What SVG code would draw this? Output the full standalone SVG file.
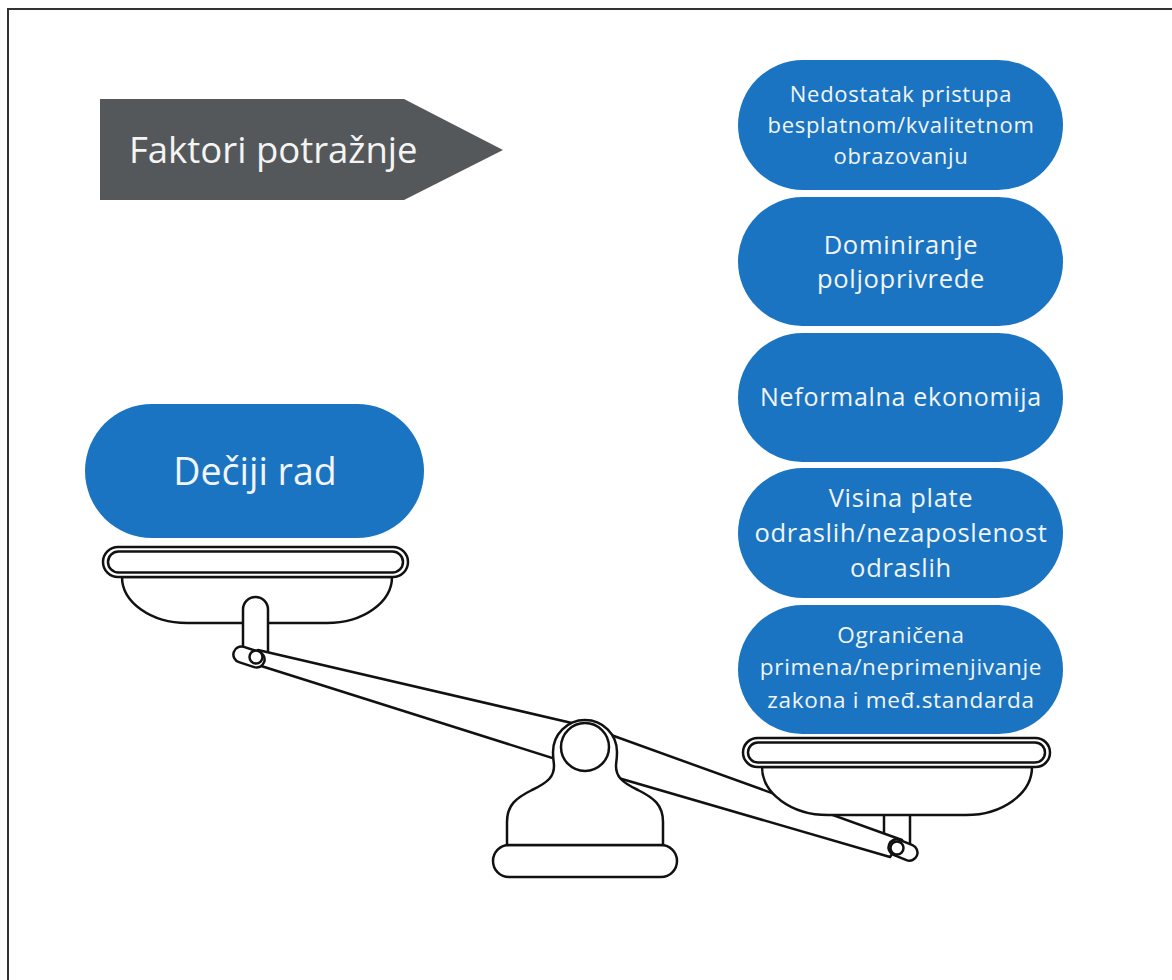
<svg xmlns="http://www.w3.org/2000/svg" width="1172" height="980" viewBox="0 0 1172 980">
<style>
.bub{fill:#1a74c1}
.bt{font-family:"Open Sans","Noto Sans","Liberation Sans",sans-serif;fill:#f2f4f7;text-anchor:middle;letter-spacing:0.7px}
.ln{fill:#fff;stroke:#111;stroke-width:2.5;stroke-linejoin:round;stroke-linecap:round}
.lo{fill:none;stroke:#111;stroke-width:2.5;stroke-linecap:round}
</style>
<rect x="0" y="0" width="1172" height="980" fill="#fff"/>
<rect x="8" y="9" width="1220" height="1020" fill="none" stroke="#333" stroke-width="2"/>

<g id="faktori">
<polygon points="100,99 404,99 503,150 404,200 100,200" fill="#54585a"/>
<text x="129" y="163" font-family="Open Sans,Noto Sans,Liberation Sans,sans-serif" font-size="36.5" fill="#f4f4f4">Faktori potražnje</text>
</g>

<g id="b1">
<rect class="bub" x="738" y="60" width="325" height="130" rx="65"/>
<text class="bt" font-size="22"><tspan x="901" y="102">Nedostatak pristupa</tspan><tspan x="901" y="133">besplatnom/kvalitetnom</tspan><tspan x="901" y="164">obrazovanju</tspan></text>
</g>
<g id="b2">
<rect class="bub" x="738" y="197" width="325" height="129" rx="64.5"/>
<text class="bt" font-size="25.5"><tspan x="901" y="254">Dominiranje</tspan><tspan x="901" y="288">poljoprivrede</tspan></text>
</g>
<g id="b3">
<rect class="bub" x="738" y="333" width="325" height="129" rx="64.5"/>
<text class="bt" font-size="25" x="901" y="406">Neformalna ekonomija</text>
</g>
<g id="b4">
<rect class="bub" x="738" y="468" width="325" height="130" rx="65"/>
<text class="bt" font-size="25.5"><tspan x="901" y="507">Visina plate</tspan><tspan x="901" y="542">odraslih/nezaposlenost</tspan><tspan x="901" y="577">odraslih</tspan></text>
</g>
<g id="b5">
<rect class="bub" x="738" y="605" width="325" height="129" rx="64.5"/>
<text class="bt" font-size="22.5"><tspan x="901" y="643">Ograničena</tspan><tspan x="901" y="675">primena/neprimenjivanje</tspan><tspan x="901" y="708">zakona i međ.standarda</tspan></text>
</g>
<g id="decji">
<rect class="bub" x="85" y="404" width="339" height="134" rx="67"/>
<text class="bt" font-size="37.5" x="255" y="485" style="letter-spacing:0">Dečiji rad</text>
</g>

<g id="scale">
<!-- right post (behind beam) -->
<rect class="ln" x="884" y="805" width="26" height="45"/>
<!-- left bowl and rim -->
<path class="ln" d="M122,577 A65,46 0 0 0 187,623 H327 A65,46 0 0 0 392,577 Z"/>
<rect class="ln" x="103" y="547" width="305" height="30" rx="15"/>
<rect class="lo" x="108" y="551.5" width="295" height="21" rx="10.5"/>
<!-- left post -->
<path class="ln" d="M243,660 V609.5 A12.5,12.5 0 0 1 268,609.5 V660 Z"/>
<!-- beam -->
<path class="ln" d="M258,650 L589,727 L902,840 L890,857 L584,768 L258,665 Z"/>
<!-- right bowl and rim -->
<path class="ln" d="M762,767 A66,48 0 0 0 828,815 H966 A66,48 0 0 0 1032,767 Z"/>
<rect class="ln" x="743" y="738" width="307" height="29" rx="14.5"/>
<rect class="lo" x="748" y="742.5" width="297" height="20" rx="10"/>
<!-- right pin -->
<rect class="ln" x="-15" y="-8" width="30" height="16" rx="8" transform="translate(903,850) rotate(22)"/>
<circle class="ln" cx="897" cy="848" r="6.5"/>
<!-- left pin -->
<rect class="ln" x="-16" y="-8" width="32" height="16" rx="8" transform="translate(249,657) rotate(18)"/>
<circle class="ln" cx="256" cy="657" r="6.5"/>

<!-- fulcrum -->
<rect class="ln" x="493" y="845" width="184" height="32" rx="16"/>
<path class="ln" d="M507,845 V822 C507,805 516,798 532,790 C549,782 554,776 554,766 C554,762 553,760 553,752 A32,32 0 1 1 617,752 C617,760 616,762 616,766 C616,776 621,782 638,790 C654,798 663,805 663,822 V845 Z"/>
<circle class="ln" cx="585" cy="747" r="24"/>
</g>
</svg>
